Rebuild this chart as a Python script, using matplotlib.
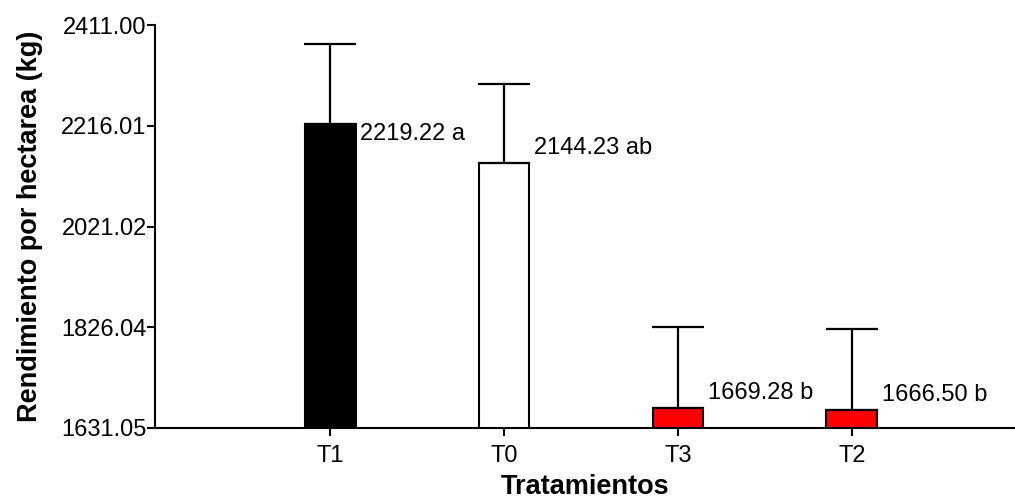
import numpy as np
import matplotlib.pyplot as plt

plt.rcParams['font.family'] = ['Liberation Sans', 'DejaVu Sans']

tratamientos = ["T1", "T0", "T3", "T2"]
rendimiento = [2219.22, 2144.23, 1669.28, 1666.50]
error_std = [155, 153, 157, 156]
letras = ["a", "ab", "b", "b"]
colores = ["black", "white", "red", "red"]
y_ticks = [1631.05, 1826.04, 2021.02, 2216.01, 2411.00]

fig = plt.figure(figsize=(10.15, 5.0), dpi=100)
ax = fig.add_axes([0.1527, 0.144, 0.8473, 0.806])

x = np.arange(len(tratamientos))
ax.bar(x, rendimiento, width=0.293, color=colores, edgecolor="black", linewidth=1.5, zorder=2)
ax.errorbar(x, rendimiento, yerr=[np.zeros(len(x)), error_std], fmt="none",
            ecolor="black", elinewidth=1.6, capsize=18.7, capthick=1.6, zorder=3)

# value + letter next to each bar
desplaz = [-10, 15, 15, 15]
for xi, v, l, dy in zip(x, rendimiento, letras, desplaz):
    ax.annotate(f"{v:.2f} {l}", (xi, v), xytext=(30, dy), textcoords="offset pixels",
                ha="left", va="center", fontsize=17)

ax.set_xlim(-1.006, 3.937)
ax.set_ylim(1631.05, 2411.00)
ax.set_xticks(x)
ax.set_xticklabels(tratamientos)
ax.set_yticks(y_ticks)
ax.set_yticklabels([f"{t:.2f}" for t in y_ticks])

for s in ["top", "right"]:
    ax.spines[s].set_visible(False)
for s in ["left", "bottom"]:
    ax.spines[s].set_linewidth(1.5)
ax.tick_params(axis="both", direction="out", length=6, width=1.5, labelsize=17)
ax.tick_params(axis="y", pad=0)
ax.tick_params(axis="x", pad=6)

ax.set_xlabel("Tratamientos", fontsize=19.5, fontweight="bold", labelpad=5)
ax.set_ylabel("Rendimiento por hectarea (kg)", fontsize=19.5, fontweight="bold", labelpad=13)

fig.savefig("out.png", dpi=100)
